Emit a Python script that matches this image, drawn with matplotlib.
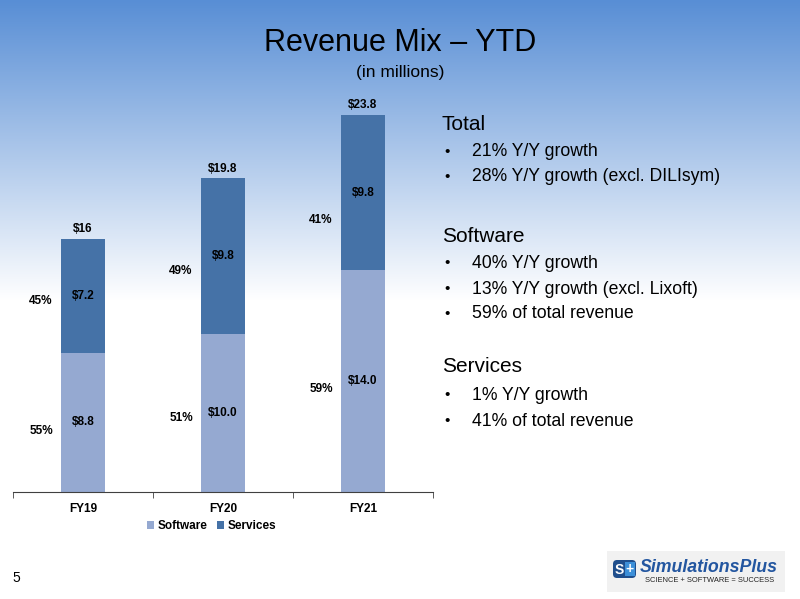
import numpy as np
import matplotlib.pyplot as plt
from matplotlib.patches import FancyBboxPatch, Rectangle

plt.rcParams['font.family'] = ['Liberation Sans', 'DejaVu Sans']

# chart data (in millions)
years = ['FY19', 'FY20', 'FY21']
software = [8.8, 10.0, 14.0]
services = [7.2, 9.8, 9.8]
total_labels = ['$16', '$19.8', '$23.8']
software_pct = ['55%', '51%', '59%']
services_pct = ['45%', '49%', '41%']

# small hand tweaks (points) so the percent labels sit as on the slide
sw_pct_shift = [-6, -4, -6]
sv_pct_shift = [-4, -11, -20]

sw_color = '#95A9D1'
sv_color = '#4572A7'


def main():
    fig = plt.figure(figsize=(8.0, 5.99), dpi=100)

    # slide background: blue fading to white
    bg = fig.add_axes([0, 0, 1, 1], zorder=-10)
    h = 599
    t = np.clip(np.arange(h) / 300.0, 0, 1)[:, None]
    top = np.array([88, 142, 213]) / 255.0
    grad = top[None, None, :] * (1 - t[..., None]) + np.ones(3)[None, None, :] * t[..., None]
    bg.imshow(np.repeat(grad, 4, axis=1), aspect='auto', extent=[0, 1, 0, 1])
    bg.set_axis_off()

    fig.text(0.5, 1 - 43 / 599, 'Revenue Mix \u2013 YTD', ha='center', va='center', fontsize=22)
    fig.text(0.5, 1 - 72 / 599, '(in millions)', ha='center', va='center', fontsize=12.5)

    ax = fig.add_axes([13 / 800, 1 - 492 / 599, 420 / 800, (492 - 96) / 599])
    ax.patch.set_alpha(0)
    x = np.arange(len(years))
    w = 0.31
    ax.bar(x, software, w, color=sw_color, label='Software')
    ax.bar(x, services, w, bottom=software, color=sv_color, label='Services')
    ax.set_xlim(-0.5, 2.5)
    ax.set_ylim(0, 25)

    lab = dict(fontsize=8.5, fontweight='bold', ha='center', va='center')
    for i in range(len(years)):
        tot = software[i] + services[i]
        ax.annotate(total_labels[i], (x[i], tot), xytext=(0, 7), textcoords='offset points', **lab)
        ax.text(x[i], software[i] / 2, f'${software[i]:.1f}', **lab)
        ax.text(x[i], software[i] + services[i] / 2, f'${services[i]:.1f}', **lab)
        ax.annotate(software_pct[i], (x[i] - 0.3, software[i] / 2), xytext=(0, sw_pct_shift[i]),
                    textcoords='offset points', **lab)
        ax.annotate(services_pct[i], (x[i] - 0.3, software[i] + services[i] / 2),
                    xytext=(0, sv_pct_shift[i]), textcoords='offset points', **lab)

    for s in ['top', 'right', 'left']:
        ax.spines[s].set_visible(False)
    ax.spines['bottom'].set_color('#404040')
    ax.spines['bottom'].set_linewidth(0.8)
    ax.set_yticks([])
    ax.set_xticks(x)
    ax.set_xticklabels(years, fontsize=8.5, fontweight='bold')
    ax.tick_params(axis='x', length=0, pad=8)
    ax.set_xticks([-0.5, 0.5, 1.5, 2.5], minor=True)
    ax.tick_params(axis='x', which='minor', length=4, color='#404040')

    fig.legend(loc='center', bbox_to_anchor=(212 / 800, 1 - 526 / 599), ncol=2, frameon=False,
               prop={'size': 8.5, 'weight': 'bold'}, handlelength=0.6, handleheight=0.6,
               handletextpad=0.3, columnspacing=0.8)

    # bullet text on the right
    lines = [
        (124, 'Total', True), (152, '21% Y/Y growth', False),
        (177, '28% Y/Y growth (excl. DILIsym)', False),
        (236, 'Software', True), (263, '40% Y/Y growth', False),
        (289, '13% Y/Y growth (excl. Lixoft)', False), (314, '59% of total revenue', False),
        (366, 'Services', True), (395, '1% Y/Y growth', False), (421, '41% of total revenue', False),
    ]
    for py, txt, head in lines:
        yy = 1 - py / 599
        if head:
            fig.text(442 / 800, yy, txt, fontsize=15, va='center')
        else:
            fig.text(444 / 800, yy, '\u2022', fontsize=11, va='center')
            fig.text(472 / 800, yy, txt, fontsize=12.7, va='center')

    fig.text(12 / 800, 1 - 578 / 599, '5', fontsize=10, va='center')

    # logo
    lg = fig.add_axes([0, 0, 1, 1], zorder=5)
    lg.set_xlim(0, 800)
    lg.set_ylim(599, 0)
    lg.set_axis_off()
    lg.patch.set_alpha(0)
    lg.add_patch(Rectangle((607, 551), 178, 41, facecolor='#F1F1F1', edgecolor='none'))
    lg.add_patch(FancyBboxPatch((613, 560), 23, 18, boxstyle='round,pad=0,rounding_size=4',
                                facecolor='#1F4E8C', edgecolor='none'))
    lg.text(619, 569.5, 'S', color='white', fontsize=10, fontweight='bold', ha='center', va='center')
    lg.add_patch(Rectangle((625, 562), 10, 14, facecolor='#3C8FD8', edgecolor='none'))
    lg.text(630, 569, '+', color='white', fontsize=10, fontweight='bold', ha='center', va='center')
    lg.text(640, 568, 'SimulationsPlus', color='#2356A0', fontsize=12.8, fontweight='bold',
            fontstyle='italic', va='center', ha='left')
    lg.text(710, 581, 'SCIENCE + SOFTWARE = SUCCESS', color='#222222', fontsize=5.4, va='center',
            ha='center')

    fig.savefig('out.png', dpi=100)


if __name__ == '__main__':
    main()
